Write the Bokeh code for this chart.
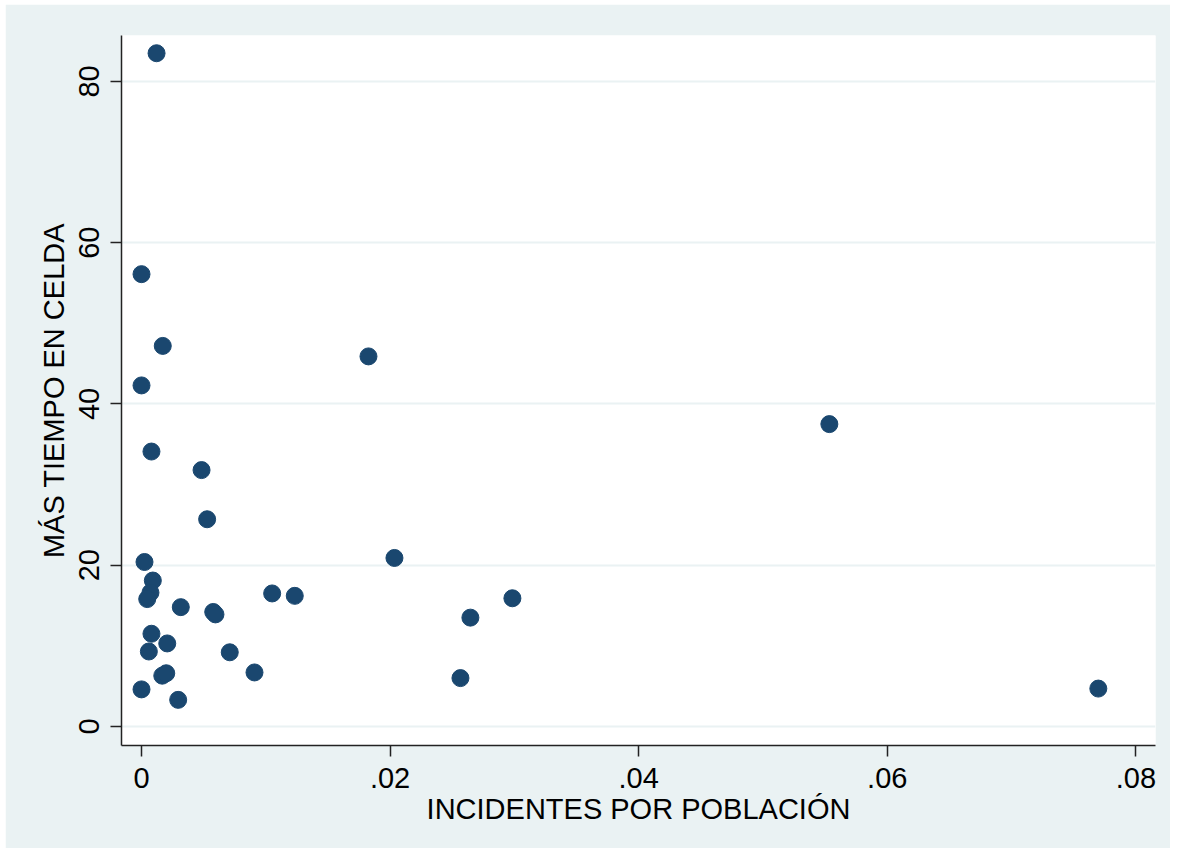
from bokeh.plotting import figure
from bokeh.models import ColumnDataSource, Range1d, FixedTicker
from bokeh.embed import file_html
from bokeh.resources import INLINE

# Data
incidentes = [0.00121, 0.0, 0.00171, 0.01826, 0.0, 0.05534, 0.0008, 0.00483,
              0.00528, 0.02035, 0.00024, 0.00091, 0.00072, 0.00046, 0.00316,
              0.00577, 0.00595, 0.01051, 0.01233, 0.0008, 0.00207, 0.00059,
              0.0071, 0.00909, 0.00167, 0.00199, 0.0, 0.00295, 0.02646,
              0.02984, 0.02566, 0.07698]
tiempo = [83.5, 56.1, 47.2, 45.9, 42.3, 37.5, 34.1, 31.8,
          25.7, 20.9, 20.4, 18.1, 16.6, 15.8, 14.8,
          14.2, 13.9, 16.5, 16.2, 11.5, 10.3, 9.3,
          9.2, 6.7, 6.3, 6.6, 4.6, 3.3, 13.5,
          15.9, 6.0, 4.7]
x_ticks = [0, 0.02, 0.04, 0.06, 0.08]
x_tick_labels = ["0", ".02", ".04", ".06", ".08"]
y_ticks = [0, 20, 40, 60, 80]
x_title = "INCIDENTES POR POBLACIÓN"
y_title = "MÁS TIEMPO EN CELDA"

BG = "#EAF2F3"
NAVY = "#1a476f"
FONT = "Liberation Sans"
FS = "29px"

p = figure(width=1165, height=844, output_backend="svg", toolbar_location=None,
           x_range=Range1d(-0.00161, 0.08158), y_range=Range1d(-2.36, 85.7),
           min_border_left=116, min_border_top=31, min_border_right=15,
           min_border_bottom=103)
p.margin = (4, 0, 0, 5)
p.border_fill_color = BG
p.background_fill_color = "white"
p.outline_line_color = None

src = ColumnDataSource(dict(x=incidentes, y=tiempo))
p.scatter("x", "y", source=src, size=17, fill_color=NAVY, line_color=NAVY)

p.xgrid.grid_line_color = None
p.ygrid.grid_line_color = BG
p.ygrid.grid_line_width = 2
p.ygrid.ticker = FixedTicker(ticks=y_ticks)

p.xaxis.ticker = FixedTicker(ticks=x_ticks)
p.xaxis.major_label_overrides = dict(zip(x_ticks, x_tick_labels))
p.yaxis.ticker = FixedTicker(ticks=y_ticks)
p.yaxis.major_label_orientation = "vertical"

for ax in (p.xaxis[0], p.yaxis[0]):
    ax.axis_line_color = "#222222"
    ax.axis_line_width = 1.5
    ax.major_tick_line_color = "#222222"
    ax.major_tick_line_width = 1.5
    ax.major_tick_in = 0
    ax.major_tick_out = 11
    ax.minor_tick_line_color = None
    ax.major_label_text_font = FONT
    ax.major_label_text_font_size = FS
    ax.major_label_text_color = "black"
    ax.axis_label_text_font = FONT
    ax.axis_label_text_font_size = FS
    ax.axis_label_text_font_style = "normal"
    ax.axis_label_text_color = "black"

p.xaxis.axis_label = x_title
p.yaxis.axis_label = y_title
p.xaxis.major_label_standoff = 11
p.xaxis.axis_label_standoff = 2
p.yaxis.major_label_standoff = 11
p.yaxis.axis_label_standoff = 7

open("out.html", "w").write(file_html(p, INLINE))
